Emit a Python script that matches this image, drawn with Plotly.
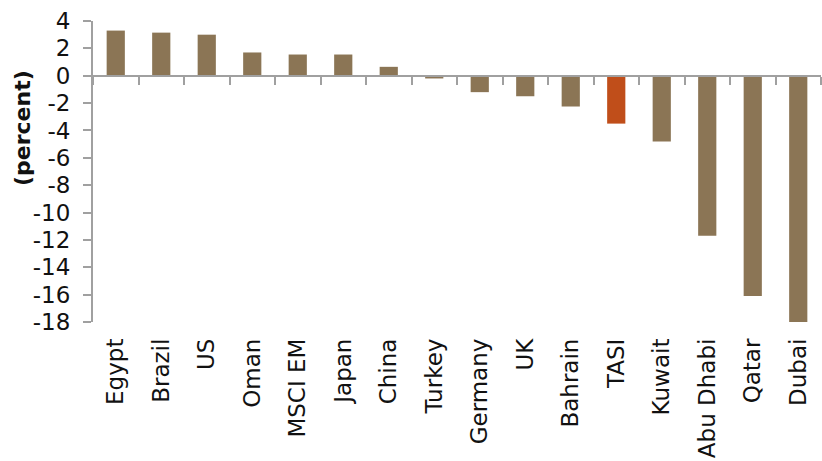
import plotly.graph_objects as go

categories = ["Egypt", "Brazil", "US", "Oman", "MSCI EM", "Japan", "China", "Turkey",
              "Germany", "UK", "Bahrain", "TASI", "Kuwait", "Abu Dhabi", "Qatar", "Dubai"]
values = [3.3, 3.15, 3.0, 1.7, 1.55, 1.55, 0.65, -0.2,
          -1.2, -1.5, -2.25, -3.5, -4.8, -11.7, -16.1, -18.1]
highlight = "TASI"
y_ticks = list(range(-18, 5, 2))

base_color = "#8B7555"
hi_color = "#C04E1A"
colors = [hi_color if c == highlight else base_color for c in categories]

font_family = "DejaVu Sans"
axis_grey = "#A0A0A0"

fig = go.Figure()
fig.add_trace(go.Bar(x=categories, y=values, marker=dict(color=colors, line=dict(width=0)),
                     showlegend=False, hoverinfo="x+y"))
# dummy trace to host the zero-line category axis
fig.add_trace(go.Scatter(x=categories, y=[None] * len(categories), xaxis="x2",
                         showlegend=False, hoverinfo="skip"))

ymin, ymax = -18, 4
fig.update_layout(
    width=822, height=461,
    margin=dict(l=93, r=1, t=21, b=139),
    paper_bgcolor="white", plot_bgcolor="white",
    bargap=0.6,
    font=dict(family=font_family, size=23, color="#111111"),
    xaxis=dict(type="category", categoryorder="array", categoryarray=categories,
               range=[-0.5, len(categories) - 0.5],
               showline=False, showgrid=False, zeroline=False, ticks="",
               tickangle=-90, tickfont=dict(size=23, family=font_family, color="#111111"),
               ticklabelstandoff=11),
    xaxis2=dict(type="category", categoryorder="array", categoryarray=categories,
                range=[-0.5, len(categories) - 0.5],
                overlaying="x", anchor="free", position=(0 - ymin) / (ymax - ymin),
                showline=True, linecolor=axis_grey, linewidth=2,
                ticks="outside", tickson="boundaries", ticklen=8, tickwidth=2, tickcolor=axis_grey,
                showticklabels=False, showgrid=False, zeroline=False),
    yaxis=dict(range=[ymin, ymax], tickvals=y_ticks, ticktext=[str(v) for v in y_ticks],
               showline=True, linecolor=axis_grey, linewidth=2,
               ticks="outside", ticklen=8, tickwidth=2, tickcolor=axis_grey,
               showgrid=False, zeroline=False,
               tickfont=dict(size=23, family=font_family, color="#111111"),
               ticklabelstandoff=8),
    annotations=[dict(text="<b>(percent)</b>", textangle=-90, showarrow=False,
                      xref="paper", yref="paper", x=(22 - 93) / 728, y=(322 - 128) / 301,
                      xanchor="center", yanchor="middle",
                      font=dict(size=22, family=font_family, color="#111111"))],
)

fig.write_html("out.html")
